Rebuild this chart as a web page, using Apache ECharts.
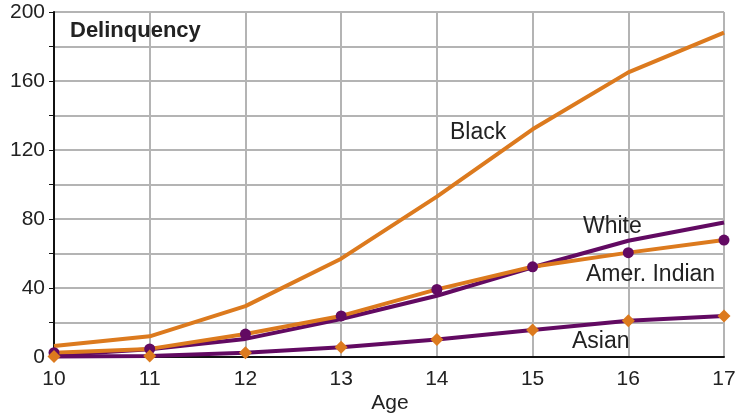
<!DOCTYPE html>
<html>
<head>
<meta charset="utf-8">
<script src="https://cdn.jsdelivr.net/npm/echarts@6/dist/echarts.min.js"></script>
<style>
  html, body { margin: 0; padding: 0; background: #fff; }
  #chart { width: 739px; height: 414px; }
</style>
</head>
<body>
<div id="chart"></div>
<script>
var ages = [10, 11, 12, 13, 14, 15, 16, 17];
var black = [6.4, 12, 29.5, 57, 93, 132, 165, 188];
var white = [1, 4.5, 10.5, 22, 35.5, 52, 67.4, 78];
var amerIndian = [2.5, 4.7, 13.3, 23.8, 39.2, 52.3, 60.5, 67.8];
var asian = [0.3, 0.6, 2.5, 5.6, 10.2, 15.7, 21, 23.8];

var ORANGE = "#DC7A1E";
var PURPLE = "#620A62";
var FONT = "Liberation Sans";

function pairs(vals) {
  return ages.map(function(a, i) { return [a, vals[i]]; });
}

// text placed next to the lines / under the axis
function note(text, x, y, font, align) {
  return {
    type: "text",
    x: x,
    y: y,
    z: 10,
    style: {
      text: text,
      font: font || "23px " + FONT,
      fill: "#222",
      align: align || "left",
      verticalAlign: "middle"
    }
  };
}

var chart = echarts.init(document.getElementById("chart"));
chart.setOption({
  animation: false,
  textStyle: { fontFamily: FONT },
  grid: { left: 54, right: 15, top: 12, bottom: 57, containLabel: false, outerBoundsMode: "none" },
  xAxis: {
    type: "value",
    min: 10,
    max: 17,
    interval: 1,
    axisLine: { lineStyle: { color: "#111", width: 2 } },
    axisTick: { show: false },
    axisLabel: { color: "#222", fontSize: 21, margin: 12, fontFamily: FONT },
    splitLine: { show: true, lineStyle: { color: "#b4b4b4", width: 2 } }
  },
  yAxis: {
    type: "value",
    min: 0,
    max: 200,
    interval: 20,
    axisLine: { show: true, lineStyle: { color: "#111", width: 2 } },
    axisTick: { show: true, length: 5, lineStyle: { color: "#111", width: 1 } },
    axisLabel: {
      color: "#222",
      fontSize: 21,
      margin: 9,
      fontFamily: FONT,
      formatter: function(v) { return v % 40 === 0 ? String(v) : ""; }
    },
    splitLine: { show: true, lineStyle: { color: "#b4b4b4", width: 2 } }
  },
  series: [
    {
      name: "White",
      type: "line",
      data: pairs(white),
      symbol: "none",
      lineStyle: { color: PURPLE, width: 4 },
      z: 2
    },
    {
      name: "Black",
      type: "line",
      data: pairs(black),
      symbol: "none",
      lineStyle: { color: ORANGE, width: 4 },
      z: 3
    },
    {
      name: "Amer. Indian",
      type: "line",
      data: pairs(amerIndian),
      symbol: "circle",
      symbolSize: 11,
      itemStyle: { color: PURPLE },
      lineStyle: { color: ORANGE, width: 4 },
      z: 4
    },
    {
      name: "Asian",
      type: "line",
      data: pairs(asian),
      symbol: "diamond",
      symbolSize: 13,
      itemStyle: { color: ORANGE },
      lineStyle: { color: PURPLE, width: 4 },
      z: 5
    }
  ],
  graphic: [
    note("Delinquency", 70, 31, "bold 22px " + FONT),
    note("Black", 450, 133),
    note("White", 583, 227),
    note("Amer. Indian", 586, 275),
    note("Asian", 572, 342),
    note("Age", 390, 403, "21px " + FONT, "center")
  ]
});
</script>
</body>
</html>
